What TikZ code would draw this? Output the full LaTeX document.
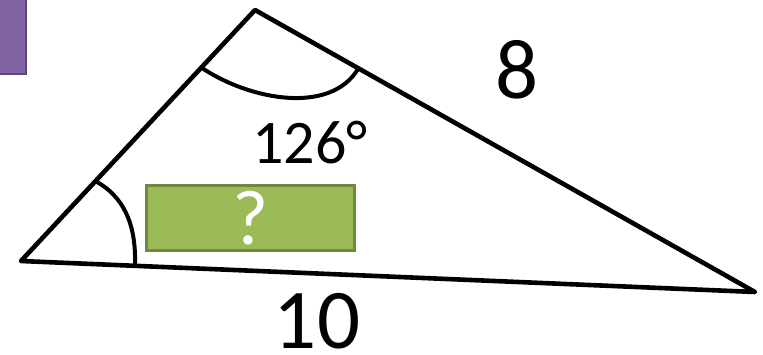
\documentclass[tikz,border=0pt]{standalone}
\usepackage{fontspec}
\setmainfont{Carlito}
\definecolor{purplefill}{HTML}{8064A2}
\definecolor{purpleedge}{HTML}{5C4776}
\definecolor{greenfill}{HTML}{9BBB59}
\definecolor{greenedge}{HTML}{71893F}
\tikzset{
  edge/.style={line width=4.6pt, line join=round, line cap=round},
  anglearc/.style={line width=4pt, line cap=round},
  biglabel/.style={font=\fontsize{85}{90}\selectfont, inner sep=0pt},
  anglelabel/.style={font=\fontsize{62}{66}\selectfont, inner sep=0pt},
  answerbox/.style={draw=greenedge, fill=greenfill, line width=3.5pt, minimum width=208pt, minimum height=65pt, inner sep=0pt, text=white, font=\fontsize{78}{80}\selectfont},
}
\begin{document}
\begin{tikzpicture}[x=1pt,y=-1pt]
\useasboundingbox (0,0) rectangle (763,354);
\fill[white] (0,0) rectangle (763,354);
% purple tab
\draw[draw=purpleedge, fill=purplefill, line width=2.5pt] (-10,-10) rectangle (26,74);
% vertices
\coordinate (L) at (21,261);
\coordinate (T) at (255,10);
\coordinate (R) at (755,292);
\draw[edge] (L) -- (T) -- (R) -- cycle;
% angle arcs
\coordinate (ta) at (202,68);
\coordinate (tb) at (358,69);
\draw[anglearc] (ta) .. controls (250,100) and (330,115) .. (tb);
\coordinate (la) at (97,182);
\coordinate (lb) at (135,263);
\draw[anglearc] (la) .. controls (122,196) and (136,222) .. (lb);
% labels
\node[biglabel] (side8) at (517,70) {8};
\node[biglabel] (side10) at (317,321) {10};
\node[anglelabel] (ang) at (310,143) {126°};
\node[answerbox] (ans) at (250.5,218) {\raisebox{-2pt}{?}};
\end{tikzpicture}
\end{document}
